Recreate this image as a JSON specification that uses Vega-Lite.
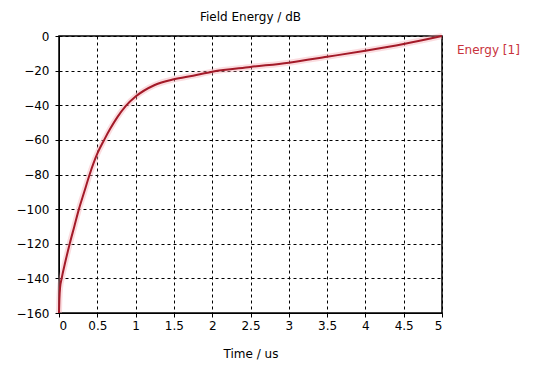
{
  "$schema": "https://vega.github.io/schema/vega-lite/v6.json",
  "width": 383,
  "height": 277,
  "autosize": {"type": "none"},
  "padding": {"left": 59, "top": 36, "right": 116, "bottom": 52},
  "background": "white",
  "config": {
    "font": "DejaVu Sans",
    "view": {"stroke": "black", "strokeWidth": 1.5},
    "axis": {
      "labelFont": "DejaVu Sans",
      "labelFontSize": 12,
      "labelColor": "black",
      "titleFont": "DejaVu Sans",
      "titleFontSize": 12,
      "titleFontWeight": "normal",
      "titleColor": "black",
      "domainColor": "black",
      "tickColor": "black",
      "tickSize": 4,
      "labelPadding": 3,
      "gridColor": "black",
      "gridDash": [3, 3],
      "gridOpacity": 1,
      "gridWidth": 1
    }
  },
  "title": {
    "text": "Field Energy / dB",
    "font": "DejaVu Sans",
    "fontSize": 12,
    "fontWeight": "normal",
    "color": "black",
    "anchor": "middle",
    "offset": 0
  },
  "data": {
    "values": [
      {"t": 0, "e": -160},
      {"t": 0.005, "e": -152},
      {"t": 0.015, "e": -145},
      {"t": 0.035, "e": -140},
      {"t": 0.085, "e": -130},
      {"t": 0.14, "e": -120},
      {"t": 0.2, "e": -110},
      {"t": 0.26, "e": -100},
      {"t": 0.33, "e": -90},
      {"t": 0.4, "e": -80},
      {"t": 0.5, "e": -68},
      {"t": 0.59, "e": -60},
      {"t": 0.67, "e": -53.5},
      {"t": 0.76, "e": -47},
      {"t": 0.87, "e": -40.5},
      {"t": 1.0, "e": -35},
      {"t": 1.25, "e": -28.3},
      {"t": 1.5, "e": -25},
      {"t": 1.75, "e": -22.9},
      {"t": 2.0, "e": -20.6},
      {"t": 2.5, "e": -17.9},
      {"t": 3.0, "e": -15.4},
      {"t": 3.5, "e": -12},
      {"t": 4.0, "e": -8.5},
      {"t": 4.5, "e": -4.6},
      {"t": 5.0, "e": 0}
    ]
  },
  "encoding": {
    "x": {
      "field": "t",
      "type": "quantitative",
      "scale": {"domain": [0, 5], "nice": false},
      "axis": {
        "title": "Time / us",
        "values": [0, 0.5, 1, 1.5, 2, 2.5, 3, 3.5, 4, 4.5, 5],
        "labelExpr": "datum.value",
        "titlePadding": 17
      }
    },
    "y": {
      "field": "e",
      "type": "quantitative",
      "scale": {"domain": [-160, 0], "nice": false},
      "axis": {
        "title": null,
        "labelPadding": 6,
        "values": [-160, -140, -120, -100, -80, -60, -40, -20, 0]
      }
    }
  },
  "layer": [
    {
      "mark": {"type": "line", "interpolate": "monotone", "stroke": "#f4a8b0", "strokeWidth": 6, "opacity": 0.4}
    },
    {
      "mark": {"type": "line", "interpolate": "monotone", "stroke": "#a31a28", "strokeWidth": 2}
    },
    {
      "transform": [{"filter": "datum.t == 5"}],
      "mark": {"type": "text", "text": "Energy [1]", "align": "left", "baseline": "middle", "dx": 15, "dy": 14, "fontSize": 12, "color": "#c8323c"}
    }
  ]
}
